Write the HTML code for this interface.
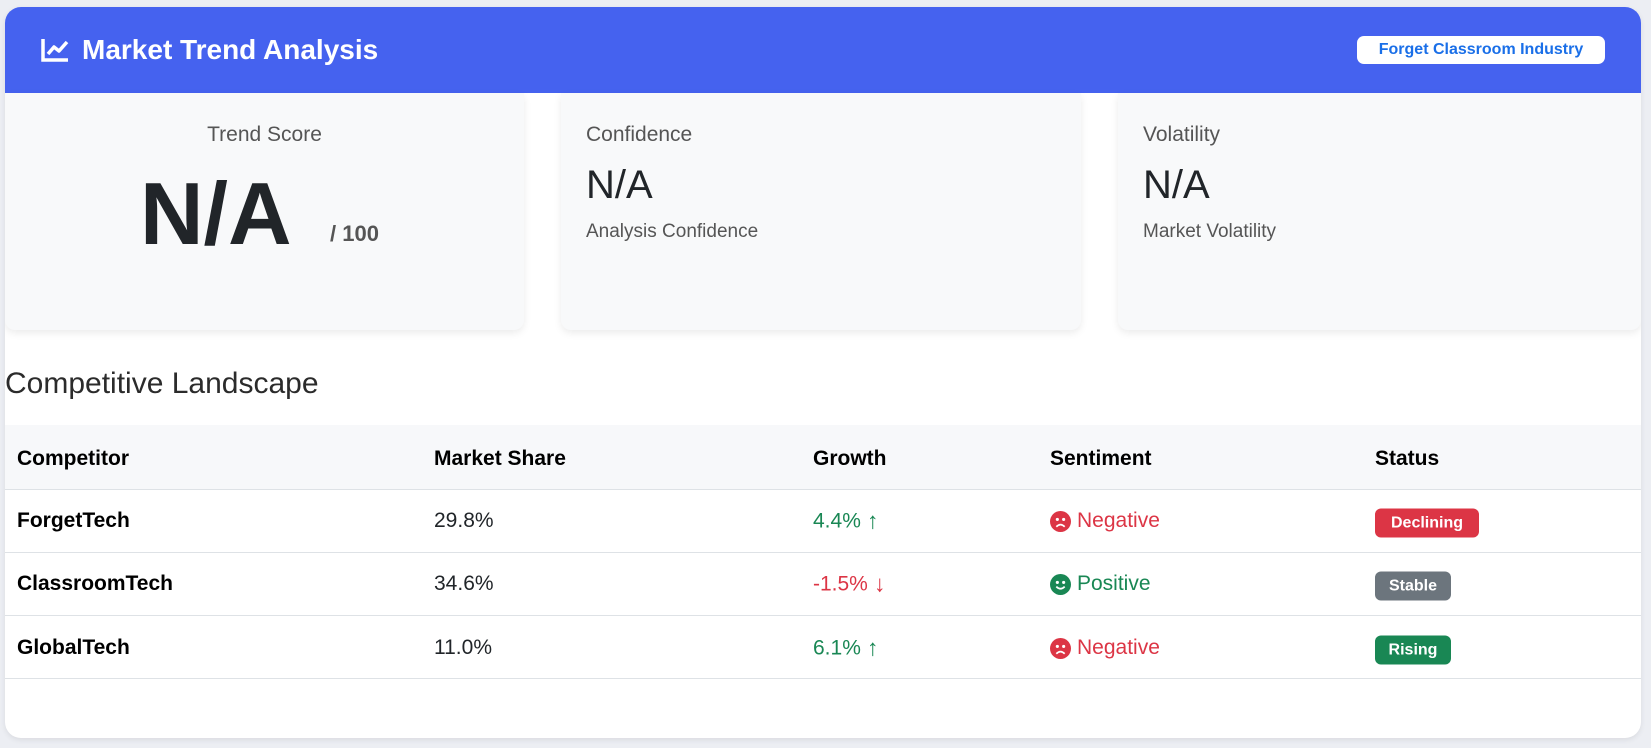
<!DOCTYPE html>
<html><head><meta charset="utf-8"><style>
*{box-sizing:border-box;margin:0;padding:0}
body{width:1651px;height:748px;background:#eceef3;font-family:"Liberation Sans",sans-serif;position:relative;overflow:hidden;color:#212529}
.card{position:absolute;left:5px;top:7px;width:1636px;height:731px;background:#fff;border-radius:16px;overflow:hidden;box-shadow:0 2px 6px rgba(0,0,0,.08)}
.hdr{position:absolute;left:0;top:0;width:100%;height:86px;background:#4562ef}
.title{position:absolute;left:35px;top:27px;color:#fff;font-size:28px;font-weight:bold;display:flex;align-items:center;gap:12px}
.badge{position:absolute;left:1352px;top:29px;width:248px;height:28px;background:#fff;border-radius:7px;color:#1a6fe8;font-weight:bold;font-size:16px;text-align:center;line-height:28px}
.m{position:absolute;top:86px;height:237px;background:#f8f9fa;border-radius:0 0 10px 10px;box-shadow:0 3px 8px rgba(0,0,0,.08)}
.lab{position:absolute;font-size:21px;color:#555}
.abs{position:absolute}
.th{position:absolute;top:418px;left:0;width:100%;height:65px;background:#f7f8fa;border-bottom:1px solid #dee2e6}
.line{position:absolute;left:0;width:100%;height:1px;background:#dee2e6}
.c{position:absolute;font-size:21px;transform:translateY(-50%);display:flex;align-items:center;gap:6px}
.b{font-weight:bold;color:#000}
.st{position:absolute;height:29px;border-radius:6px;color:#fff;font-weight:bold;font-size:16px;line-height:29px;text-align:center;transform:translateY(-50%)}
.g{color:#198754}.r{color:#dc3545}
.ar{font-weight:bold;font-size:23px}
</style></head><body>
<div class="card">
<div class="hdr">
<div class="title"><svg width="30" height="26" viewBox="0 0 30 26"><path d="M3 2V23H28" stroke="#fff" stroke-width="3.5" fill="none"/><path d="M8 17L14 10L19 14L27 5" stroke="#fff" stroke-width="3.5" fill="none" stroke-linejoin="round"/></svg>Market Trend Analysis</div>
<div class="badge">Forget Classroom Industry</div>
</div>
<div class="m" style="left:0;width:519px">
<div class="lab" style="left:0;width:100%;text-align:center;top:30px">Trend Score</div>
<div class="abs" style="left:135px;top:70px;font-size:88px;font-weight:bold">N/A</div>
<div class="abs" style="left:325px;top:128px;font-size:22px;font-weight:bold;color:#555">/ 100</div>
</div>
<div class="m" style="left:556px;width:520px">
<div class="lab" style="left:25px;top:30px">Confidence</div>
<div class="abs" style="left:25px;top:70px;font-size:40px">N/A</div>
<div class="lab" style="left:25px;top:128px;font-size:19px">Analysis Confidence</div>
</div>
<div class="m" style="left:1113px;width:523px">
<div class="lab" style="left:25px;top:30px">Volatility</div>
<div class="abs" style="left:25px;top:70px;font-size:40px">N/A</div>
<div class="lab" style="left:25px;top:128px;font-size:19px">Market Volatility</div>
</div>
<div class="abs" style="left:0;top:360px;font-size:30px;color:#2b2b2b">Competitive Landscape</div>
<div class="th"></div>
<div class="c b" style="left:12px;top:452px">Competitor</div>
<div class="c b" style="left:429px;top:452px">Market Share</div>
<div class="c b" style="left:808px;top:452px">Growth</div>
<div class="c b" style="left:1045px;top:452px">Sentiment</div>
<div class="c b" style="left:1370px;top:452px">Status</div>
<div class="line" style="top:545px"></div><div class="line" style="top:608px"></div><div class="line" style="top:671px"></div>

<div class="c b" style="left:12px;top:514px">ForgetTech</div>
<div class="c" style="left:429px;top:514px">29.8%</div>
<div class="c g" style="left:808px;top:514px">4.4%<span class="ar">↑</span></div>
<div class="c r" style="left:1045px;top:514px"><svg width="21" height="21" viewBox="0 0 20 20"><circle cx="10" cy="10" r="10" fill="#dc3545"/><circle cx="7" cy="8" r="1.5" fill="#fff"/><circle cx="13" cy="8" r="1.5" fill="#fff"/><path d="M6 15Q10 11 14 15" stroke="#fff" stroke-width="1.6" fill="none"/></svg>Negative</div>
<div class="st" style="left:1370px;top:516px;width:104px;background:#dc3545">Declining</div>

<div class="c b" style="left:12px;top:577px">ClassroomTech</div>
<div class="c" style="left:429px;top:577px">34.6%</div>
<div class="c r" style="left:808px;top:577px">-1.5%<span class="ar">↓</span></div>
<div class="c g" style="left:1045px;top:577px"><svg width="21" height="21" viewBox="0 0 20 20"><circle cx="10" cy="10" r="10" fill="#198754"/><circle cx="7" cy="8" r="1.5" fill="#fff"/><circle cx="13" cy="8" r="1.5" fill="#fff"/><path d="M6 12Q10 16 14 12" stroke="#fff" stroke-width="1.6" fill="none"/></svg>Positive</div>
<div class="st" style="left:1370px;top:579px;width:76px;background:#6c757d">Stable</div>

<div class="c b" style="left:12px;top:641px">GlobalTech</div>
<div class="c" style="left:429px;top:641px">11.0%</div>
<div class="c g" style="left:808px;top:641px">6.1%<span class="ar">↑</span></div>
<div class="c r" style="left:1045px;top:641px"><svg width="21" height="21" viewBox="0 0 20 20"><circle cx="10" cy="10" r="10" fill="#dc3545"/><circle cx="7" cy="8" r="1.5" fill="#fff"/><circle cx="13" cy="8" r="1.5" fill="#fff"/><path d="M6 15Q10 11 14 15" stroke="#fff" stroke-width="1.6" fill="none"/></svg>Negative</div>
<div class="st" style="left:1370px;top:643px;width:76px;background:#198754">Rising</div>
</div>
</body></html>
